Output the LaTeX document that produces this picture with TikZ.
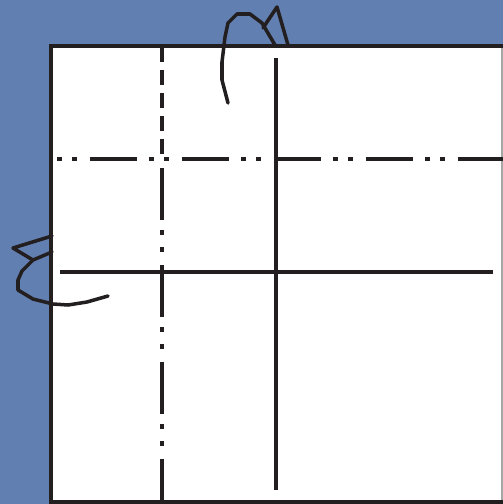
\documentclass[tikz,border=0pt]{standalone}
\usepackage{xcolor}
\definecolor{bgblue}{RGB}{98,127,178}
\definecolor{ink}{RGB}{35,31,32}

\begin{document}
\begin{tikzpicture}[x=0.02cm, y=-0.02cm,
    fold/.style={ink, line width=1.9pt},
    mountain/.style={fold, dash pattern=on 0.1cm off 0.2cm on 0.1cm off 0.26cm on 0.94cm off 0.24cm},
    mountainv/.style={fold, dash pattern=on 1.04cm off 0.2cm on 0.1cm off 0.24cm on 0.1cm off 0.26cm},
    arrowline/.style={ink, line width=2pt, line join=round, line cap=round}]
    % background and paper
    \fill[bgblue] (0,0) rectangle (503,504);
    \useasboundingbox (0,0) rectangle (503,504);
    \fill[white] (51,46) rectangle (502,502);
    \draw[gray!70, line width=0.8pt] (502,46) -- (502,502);
    \draw[ink, line width=2.2pt] (503,46) -- (51,46) -- (51,504);
    \draw[ink, line width=2.2pt] (51,502) -- (503,502);
    % folds
    \draw[fold, dash pattern=on 0.3cm off 0.16cm] (162,47) -- (162,156);
    \draw[mountainv] (162,168) -- (162,502);
    \draw[mountain] (57,159) -- (503,159);
    \draw[fold] (276,58) -- (276,490);
    \draw[fold] (60,272) -- (493,272);
    % top arrow
    \draw[arrowline] (228,103) -- (222,80) -- (222,62) -- (225,37) -- (228,23) -- (237,14)
        -- (250,14) -- (262,23) -- (275,45);
    \draw[arrowline] (263,28) -- (277,7) -- (288,45);
    % left arrow
    \draw[arrowline] (52,252) -- (33,260) -- (22,271) -- (18,280) -- (18,290) -- (33,299)
        -- (53,304) -- (68,305) -- (87,302) -- (108,296);
    \draw[arrowline] (52,236) -- (13,248) -- (33,260);
\end{tikzpicture}
\end{document}
